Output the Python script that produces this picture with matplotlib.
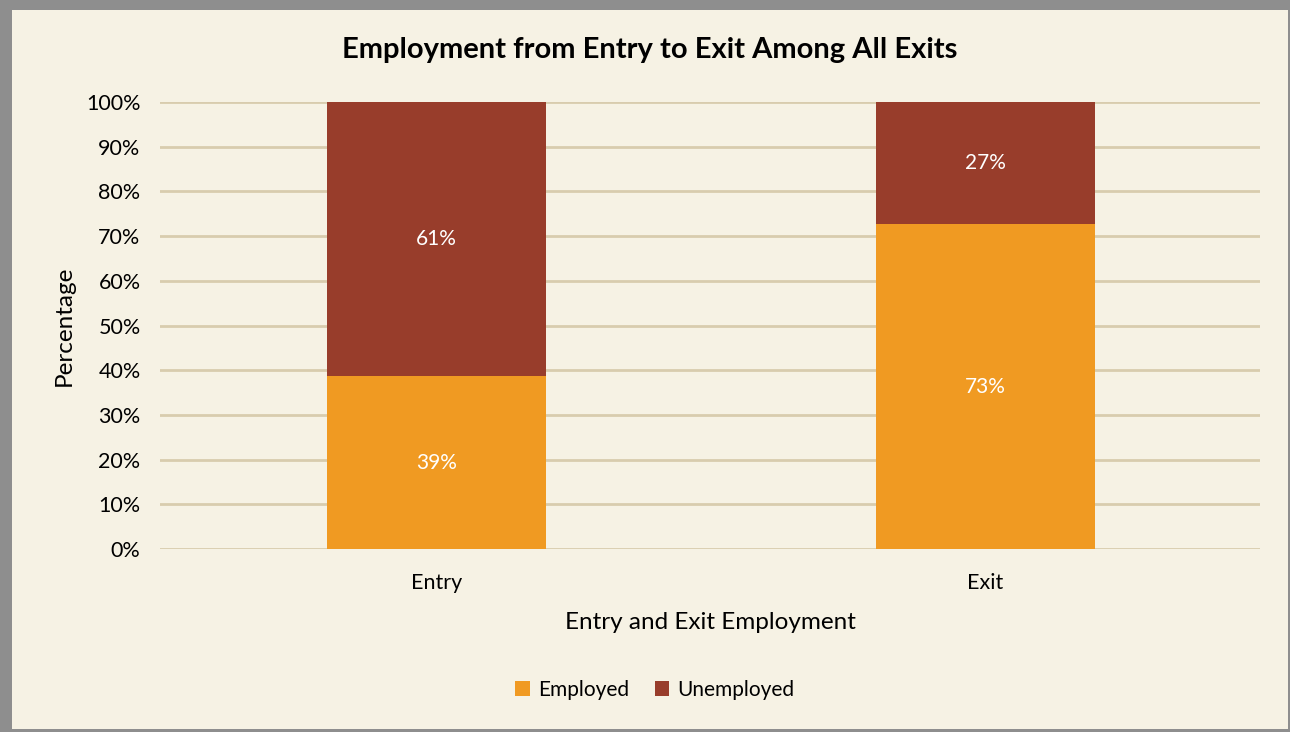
import matplotlib
matplotlib.use('Agg')
from matplotlib import pyplot as plt
from matplotlib.patches import Rectangle

categories = ['Entry', 'Exit']
employed = [38.7, 72.6]
unemployed = [61.3, 27.4]
series_names = ['Employed', 'Unemployed']
yticks = list(range(0, 101, 10))

plt.rcParams['font.family'] = ['Lato', 'DejaVu Sans']

bg = '#F6F2E4'
orange = '#F09A22'
brown = '#983D2B'

fig = plt.figure(figsize=(12.9, 7.32), dpi=100)
fig.patch.set_facecolor('#8e8e8e')
fig.patches.append(Rectangle((12 / 1290, 3 / 732), 1276 / 1290, 719 / 732,
                             transform=fig.transFigure, facecolor=bg,
                             edgecolor='none', zorder=-1))

ax = fig.add_axes([160 / 1290, 1 - 549 / 732, 1100 / 1290, 447 / 732])
ax.set_facecolor(bg)
ax.set_zorder(2)

x = list(range(len(categories)))
b1 = ax.bar(x, employed, width=0.4, color=orange, label=series_names[0], zorder=3)
b2 = ax.bar(x, unemployed, width=0.4, bottom=employed, color=brown,
            label=series_names[1], zorder=3)

for i in x:
    ax.text(i, employed[i] / 2, f'{round(employed[i])}%', ha='center', va='center',
            color='white', fontsize=15, zorder=4)
    ax.text(i, employed[i] + unemployed[i] / 2, f'{round(unemployed[i])}%',
            ha='center', va='center', color='white', fontsize=15, zorder=4)

ax.set_xlim(-0.504, 1.5)
ax.set_ylim(0, 100)
ax.set_yticks(yticks)
ax.set_yticklabels([f'{t}%' for t in yticks], fontsize=15.5)
ax.set_xticks(x)
ax.set_xticklabels(categories, fontsize=15.5)
ax.tick_params(length=0, pad=14)
ax.tick_params(axis='x', pad=17)
ax.grid(axis='y', color='#D8CCAE', linewidth=2, zorder=0)
ax.set_axisbelow(True)
for s in ax.spines.values():
    s.set_visible(False)

ax.set_ylabel('Percentage', fontsize=17.5, labelpad=8)
ax.set_xlabel('Entry and Exit Employment', fontsize=17.5, labelpad=14)

fig.text(650 / 1290, 1 - 50 / 732, 'Employment from Entry to Exit Among All Exits',
         ha='center', va='center', fontsize=21, fontweight='bold')

fig.legend(handles=[b1, b2], loc='center', bbox_to_anchor=(655 / 1290, 1 - 690 / 732),
           ncol=2, frameon=False, fontsize=15, handlelength=0.7, handleheight=0.7,
           handletextpad=0.4, columnspacing=1.2)

fig.savefig('out.png', dpi=100, facecolor=fig.get_facecolor())
